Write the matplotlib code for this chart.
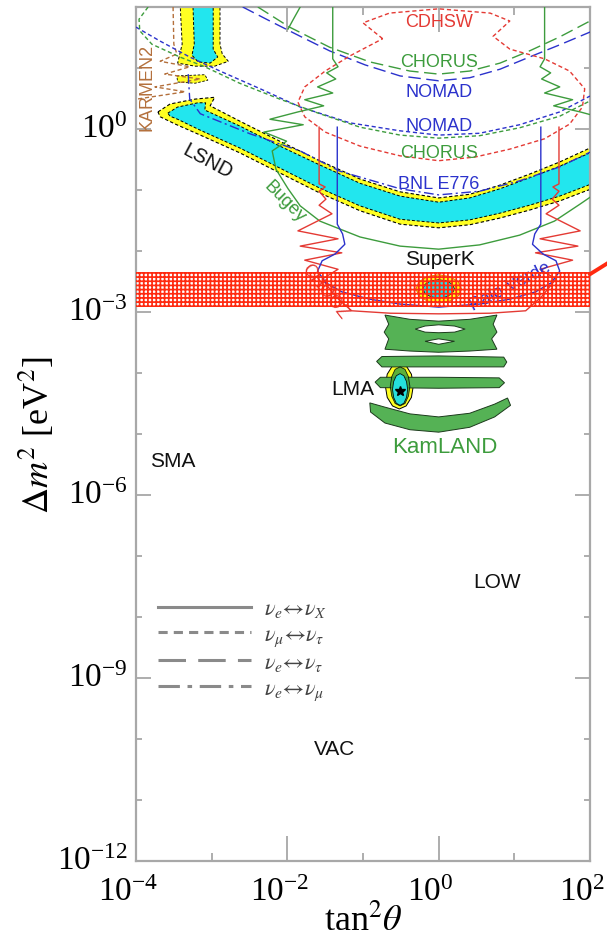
import numpy as np
import matplotlib
matplotlib.use("Agg")
import matplotlib.pyplot as plt
import matplotlib.transforms as mtransforms
from matplotlib.lines import Line2D
from matplotlib.ticker import NullFormatter

# all points are (log10 tan^2 theta, log10 dm^2 / eV^2)

# LSND allowed region (yellow = outer, cyan = inner)
lsnd_yellow_upper = [(-3.71, 0.28), (-3.55, 0.41), (-3.22, 0.49), (-2.96, 0.52), (-3.02, 0.38),
                     (-2.63, 0.13), (-2.10, -0.20), (-1.57, -0.52), (-1.04, -0.82), (-0.51, -1.03),
                     (0.0, -1.13), (0.41, -1.07), (0.81, -0.92), (1.20, -0.74), (1.60, -0.54), (2.02, -0.30)]
lsnd_yellow_lower = [(2.02, -0.98), (1.60, -1.18), (1.20, -1.33), (0.81, -1.46), (0.41, -1.57),
                     (0.0, -1.62), (-0.51, -1.56), (-1.04, -1.34), (-1.57, -1.05), (-2.10, -0.72),
                     (-2.63, -0.39), (-3.15, -0.10), (-3.48, 0.08), (-3.68, 0.20)]
lsnd_cyan_upper = [(-3.58, 0.26), (-3.45, 0.36), (-3.18, 0.43), (-3.08, 0.43), (-3.09, 0.31),
                   (-2.63, 0.05), (-2.10, -0.28), (-1.57, -0.59), (-1.04, -0.89), (-0.51, -1.10),
                   (0.0, -1.20), (0.41, -1.13), (0.81, -0.98), (1.20, -0.80), (1.60, -0.61), (2.02, -0.38)]
lsnd_cyan_lower = [(2.02, -0.90), (1.60, -1.10), (1.20, -1.25), (0.81, -1.38), (0.41, -1.49),
                   (0.0, -1.54), (-0.51, -1.48), (-1.04, -1.26), (-1.57, -0.97), (-2.10, -0.64),
                   (-2.63, -0.31), (-3.15, -0.02), (-3.45, 0.16), (-3.55, 0.21)]
lsnd_strip_yellow = [(-3.42, 2.13), (-2.89, 2.13), (-2.89, 1.39), (-2.86, 1.23), (-2.78, 1.11),
                     (-2.96, 1.03), (-3.22, 1.03), (-3.45, 1.08), (-3.39, 1.39)]
lsnd_strip_cyan = [(-3.25, 2.13), (-2.98, 2.13), (-2.98, 1.31), (-2.92, 1.18), (-3.02, 1.08),
                   (-3.18, 1.10), (-3.26, 1.21), (-3.23, 1.39)]
lsnd_blob = [(-3.46, 0.87), (-3.09, 0.89), (-3.05, 0.80), (-3.22, 0.75), (-3.45, 0.77)]

# exclusion curves
karmen2 = [(-3.51, 2.0), (-3.50, 1.39), (-3.46, 1.23), (-3.68, 1.11), (-3.29, 1.02), (-3.62, 0.90),
           (-3.15, 0.82), (-3.75, 0.69), (-3.35, 0.61), (-3.99, 0.49)]
nomad_mt = [(-4.0, 1.67), (-3.68, 1.44), (-3.29, 1.18), (-2.89, 0.95), (-2.36, 0.66), (-1.83, 0.36),
            (-1.17, 0.10), (-0.51, -0.03), (0.0, -0.10), (0.54, -0.07), (1.07, 0.07), (1.60, 0.28), (2.0, 0.54)]
chorus_mt = [(-3.84, 2.0), (-3.96, 1.80), (-3.95, 1.61), (-3.79, 1.39), (-3.42, 1.18), (-3.09, 1.02),
             (-2.63, 0.75), (-2.10, 0.49), (-1.57, 0.25), (-1.04, 0.03), (-0.51, -0.10), (0.0, -0.15),
             (0.54, -0.11), (1.07, 0.02), (1.60, 0.21), (2.0, 0.46)]
nomad_et = [(-2.59, 2.0), (-2.23, 1.77), (-1.83, 1.52), (-1.44, 1.28), (-0.97, 1.05), (-0.51, 0.87),
            (0.0, 0.79), (0.41, 0.84), (0.81, 0.98), (1.24, 1.20), (1.60, 1.38), (2.04, 1.61)]
chorus_et = [(-2.39, 2.0), (-1.97, 1.67), (-1.44, 1.34), (-0.91, 1.10), (-0.38, 0.95), (0.0, 0.90),
             (0.41, 0.95), (0.81, 1.08), (1.20, 1.28), (1.60, 1.51), (2.0, 1.77)]
cdhsw = [(-0.74, 1.48), (-1.0, 1.74), (-0.65, 1.90), (0.0, 1.97), (0.68, 1.90), (0.94, 1.77),
         (0.72, 1.52), (0.94, 1.31), (1.40, 1.15), (1.73, 0.95), (1.93, 0.66), (1.90, 0.36),
         (1.73, 0.08), (1.40, -0.16), (0.94, -0.33), (0.48, -0.46), (0.0, -0.52), (-0.51, -0.44),
         (-1.04, -0.28), (-1.50, -0.05), (-1.77, 0.20), (-1.86, 0.44), (-1.77, 0.69), (-1.50, 0.95),
         (-1.17, 1.20), (-0.74, 1.48)]
bnl_e776 = [(-3.31, 0.90), (-3.29, 0.49), (-3.15, 0.25), (-2.49, -0.08), (-1.83, -0.36), (-1.31, -0.69),
            (-0.51, -0.98), (0.0, -1.08), (0.54, -1.02), (1.07, -0.85), (1.60, -0.62), (2.0, -0.38)]
bugey_main = [(-1.40, 2.0), (-1.40, 1.15), (-1.33, 1.02), (-1.48, 0.92), (-1.36, 0.82), (-1.60, 0.69),
              (-1.40, 0.59), (-1.77, 0.48), (-1.52, 0.38), (-1.86, 0.28), (-2.23, 0.16), (-1.79, 0.07),
              (-2.31, -0.05), (-2.01, -0.20), (-2.20, -0.36), (-2.15, -0.66), (-1.99, -0.98),
              (-1.83, -1.26), (-1.57, -1.51), (-1.04, -1.77), (-0.51, -1.92), (0.0, -1.97),
              (0.54, -1.90), (1.07, -1.74), (1.53, -1.51), (1.87, -1.23), (2.20, -0.95)]
bugey_right = [(1.40, 2.0), (1.40, 1.15), (1.34, 1.02), (1.48, 0.92), (1.36, 0.82), (1.60, 0.69),
               (1.40, 0.59), (1.77, 0.48), (1.52, 0.38), (1.87, 0.28), (2.23, 0.16)]
green_hook = [(-1.99, 1.64), (-1.92, 1.80), (-1.83, 2.0)]
chooz = [(-1.58, 0.03), (-1.58, -0.90), (-1.50, -0.95), (-1.58, -1.02), (-1.49, -1.15), (-1.58, -1.25),
         (-1.41, -1.39), (-1.86, -1.67), (-1.33, -1.80), (-1.83, -1.92), (-1.28, -2.03), (-1.77, -2.15),
         (-1.33, -2.30), (-1.54, -2.46), (-1.36, -2.75), (-1.15, -2.98), (-0.64, -3.02), (0.0, -3.03),
         (0.68, -3.02), (1.15, -2.98), (1.36, -2.75), (1.55, -2.46), (1.34, -2.30), (1.77, -2.15),
         (1.28, -2.03), (1.84, -1.92), (1.34, -1.80), (1.87, -1.67), (1.42, -1.39), (1.59, -1.25),
         (1.50, -1.15), (1.59, -1.02), (1.51, -0.95), (1.59, -0.90), (1.59, 0.03)]
palo_verde = [(-1.34, 0.03), (-1.34, -1.56), (-1.27, -1.72), (-1.24, -1.89), (-1.37, -2.05),
              (-1.54, -2.16), (-1.60, -2.33), (-1.49, -2.52), (-1.28, -2.67), (-0.91, -2.79),
              (-0.51, -2.87), (0.0, -2.92), (0.54, -2.87), (0.94, -2.79), (1.28, -2.67), (1.49, -2.52),
              (1.60, -2.33), (1.55, -2.16), (1.38, -2.05), (1.24, -1.89), (1.27, -1.72), (1.35, -1.56),
              (1.35, 0.03)]

# atmospheric band (SuperK) and its pointer line
atm_band = (-2.92, -2.34)
atm_pointer = [(2.0, -2.38), (2.22, -2.21)]
superk_outer = [(0.30, -2.62), (0.26, -2.505), (0.15, -2.42), (0.0, -2.39), (-0.15, -2.42), (-0.26, -2.505),
                (-0.30, -2.62), (-0.26, -2.735), (-0.15, -2.82), (0.0, -2.85), (0.15, -2.82), (0.26, -2.735)]
superk_inner = [(0.21, -2.62), (0.18, -2.545), (0.105, -2.49), (0.0, -2.47), (-0.105, -2.49), (-0.18, -2.545),
                (-0.21, -2.62), (-0.18, -2.695), (-0.105, -2.75), (0.0, -2.77), (0.105, -2.75), (0.18, -2.695)]

# KamLAND and LMA
kam_top = [(-0.71, -3.05), (-0.38, -3.12), (0.0, -3.15), (0.41, -3.12), (0.77, -3.05), (0.72, -3.20),
           (0.77, -3.33), (0.70, -3.44), (0.77, -3.61), (0.41, -3.64), (0.0, -3.66), (-0.38, -3.64),
           (-0.71, -3.61), (-0.66, -3.44), (-0.72, -3.33), (-0.66, -3.20)]
kam_hole1 = [(-0.31, -3.28), (-0.18, -3.23), (0.0, -3.21), (0.21, -3.23), (0.35, -3.28), (0.21, -3.33),
             (0.0, -3.34), (-0.18, -3.33)]
kam_hole2 = [(-0.18, -3.48), (0.0, -3.44), (0.21, -3.48), (0.0, -3.53)]
kam_band2 = [(-0.82, -3.81), (-0.75, -3.73), (0.0, -3.72), (0.86, -3.74), (0.90, -3.82), (0.86, -3.90),
             (0.0, -3.90), (-0.75, -3.90)]
kam_band3 = [(-0.84, -4.15), (-0.77, -4.07), (0.0, -4.07), (0.80, -4.08), (0.87, -4.16), (0.80, -4.24),
             (0.0, -4.25), (-0.77, -4.24)]
kam_arc = [(-0.91, -4.49), (-0.71, -4.56), (-0.38, -4.67), (0.0, -4.72), (0.41, -4.66), (0.74, -4.51),
           (0.91, -4.41), (0.95, -4.53), (0.74, -4.72), (0.41, -4.89), (0.0, -4.97), (-0.38, -4.93),
           (-0.71, -4.82), (-0.90, -4.64)]
lma_yellow = [(-0.335, -4.21), (-0.36, -4.02), (-0.43, -3.88), (-0.52, -3.83), (-0.61, -3.88), (-0.68, -4.02),
              (-0.705, -4.21), (-0.68, -4.40), (-0.61, -4.54), (-0.52, -4.59), (-0.43, -4.54), (-0.36, -4.40)]
lma_green = [(-0.38, -4.22), (-0.40, -4.06), (-0.445, -3.94), (-0.51, -3.90), (-0.575, -3.94), (-0.62, -4.06),
             (-0.64, -4.22), (-0.62, -4.38), (-0.575, -4.50), (-0.51, -4.54), (-0.445, -4.50), (-0.40, -4.38)]
lma_cyan = [(-0.41, -4.27), (-0.425, -4.14), (-0.46, -4.045), (-0.51, -4.01), (-0.56, -4.045), (-0.595, -4.14),
            (-0.61, -4.27), (-0.595, -4.40), (-0.56, -4.495), (-0.51, -4.53), (-0.46, -4.495), (-0.425, -4.40)]
lma_best = (-0.51, -4.30)

# labels: text, (log x, log y), colour key, size, rotation
labels = [("CDHSW", (0.0, 1.77), "red", 13, 0), ("CHORUS", (0.0, 1.11), "green", 13, 0),
          ("NOMAD", (0.0, 0.61), "blue", 13, 0), ("NOMAD", (0.0, 0.05), "blue", 13, 0),
          ("CHORUS", (0.0, -0.38), "green", 13, 0), ("BNL E776", (0.0, -0.90), "blue", 13, 0),
          ("LSND", (-3.06, -0.52), "black", 14.5, -28), ("KARMEN2", (-3.855, 0.69), "brown", 13, 90),
          ("Bugey", (-2.03, -1.18), "green", 13, -45), ("SuperK", (0.02, -2.13), "black", 15, 0),
          ("LMA", (-1.13, -4.26), "black", 15, 0), ("KamLAND", (0.08, -5.20), "green", 16, 0),
          ("SMA", (-3.52, -5.43), "black", 15, 0), ("LOW", (0.77, -7.41), "black", 15, 0),
          ("VAC", (-1.37, -10.16), "black", 15, 0)]
hidden_labels = [("CHOOZ", (-1.50, -2.66), "red", 13, -52), ("Palo Verde", (0.94, -2.57), "blue", 13, 27)]

legend_labels = [r"$\nu_e\!\leftrightarrow\!\nu_X$", r"$\nu_\mu\!\leftrightarrow\!\nu_\tau$",
                 r"$\nu_e\!\leftrightarrow\!\nu_\tau$", r"$\nu_e\!\leftrightarrow\!\nu_\mu$"]

colors = {"red": "#e43a34", "green": "#3d9c3d", "blue": "#2b32cc", "brown": "#b4703c", "black": "#111111"}
YELLOW = "#ffff22"
CYAN = "#22e6ee"
KAMGREEN = "#55b255"
SOLID = "-"
SHORT = (0, (3, 2))
LONG = (0, (9, 4))
DASHDOT = (0, (7, 2.5, 1.5, 2.5))

plt.rcParams["font.family"] = "Liberation Serif"
plt.rcParams["mathtext.fontset"] = "stix"
plt.rcParams["hatch.linewidth"] = 1.25


def xy(points):
    arr = 10.0 ** np.array(points, dtype=float)
    return arr[:, 0], arr[:, 1]


fig = plt.figure(figsize=(6.07, 9.45), dpi=100)
ax = fig.add_axes([136 / 607, 83 / 945, 454 / 607, 854 / 945])
ax.set_xscale("log")
ax.set_yscale("log")

# filled regions
ax.fill(*xy(lsnd_strip_yellow), facecolor=YELLOW, edgecolor="k", lw=0.7, ls=SHORT, zorder=2)
ax.fill(*xy(lsnd_strip_cyan), facecolor=CYAN, edgecolor="k", lw=0.7, ls=SHORT, zorder=2)
ax.fill(*xy(lsnd_blob), facecolor=YELLOW, edgecolor="k", lw=0.6, ls=SHORT, zorder=2)
ax.fill(*xy(lsnd_yellow_upper + lsnd_yellow_lower), facecolor=YELLOW, edgecolor="k", lw=0.8, ls=SHORT, zorder=2)
ax.fill(*xy(lsnd_cyan_upper + lsnd_cyan_lower), facecolor=CYAN, edgecolor="k", lw=0.7, ls=SHORT, zorder=2)

ax.fill(*xy(superk_outer), facecolor=YELLOW, edgecolor="#e08a00", lw=0.8, zorder=2)
ax.fill(*xy(superk_inner), facecolor=CYAN, edgecolor="k", lw=0.5, zorder=2)

ax.fill(*xy(lma_yellow), facecolor=YELLOW, edgecolor="k", lw=0.7, zorder=2)
for blob in [kam_top, kam_band2, kam_band3, kam_arc]:
    ax.fill(*xy(blob), facecolor=KAMGREEN, edgecolor="#1c3a1c", lw=0.7, zorder=2.2)
for hole in [kam_hole1, kam_hole2]:
    ax.fill(*xy(hole), facecolor="white", edgecolor="#1c3a1c", lw=0.7, zorder=2.3)
ax.fill(*xy(lma_green), facecolor="#3fa23f", edgecolor="k", lw=0.6, alpha=0.85, zorder=2.4)
ax.fill(*xy(lma_cyan), facecolor=CYAN, edgecolor="k", lw=0.6, alpha=0.9, zorder=2.5)
ax.plot(10 ** lma_best[0], 10 ** lma_best[1], marker="*", color="k", ms=7, zorder=2.6)

# exclusion curves
curves = [(karmen2, "brown", SHORT), (nomad_mt, "blue", SHORT), (chorus_mt, "green", SHORT),
          (nomad_et, "blue", LONG), (chorus_et, "green", LONG), (cdhsw, "red", SHORT),
          (bnl_e776, "blue", DASHDOT), (bugey_main, "green", SOLID), (bugey_right, "green", SOLID),
          (green_hook, "green", SOLID), (chooz, "red", SOLID), (palo_verde, "blue", SOLID)]
for pts, c, ls in curves:
    ax.plot(*xy(pts), color=colors[c], lw=1.0, ls=ls, zorder=3)

for text, (lx, ly), c, size, rot in hidden_labels:
    ax.text(10 ** lx, 10 ** ly, text, color=colors[c], fontsize=size, rotation=rot,
            ha="center", va="center", family="Liberation Sans", zorder=3.5)

# hatched atmospheric band
ax.axhspan(10 ** atm_band[0], 10 ** atm_band[1], facecolor="none", edgecolor="#ff2a10",
           hatch="++++", lw=0, zorder=4)
ax.plot(*xy(atm_pointer), color="#ff2a10", lw=2.8, clip_on=False, zorder=4)

for text, (lx, ly), c, size, rot in labels:
    ax.text(10 ** lx, 10 ** ly, text, color=colors[c], fontsize=size, rotation=rot,
            ha="center", va="center", family="Liberation Sans", zorder=5)

# legend
handles = [Line2D([], [], color="#8a8a8a", lw=2.2, ls=ls) for ls in [SOLID, SHORT, LONG, DASHDOT]]
ax.legend(handles, legend_labels, loc="upper left", bbox_to_anchor=(0.048, 0.307), frameon=False,
          fontsize=16, handlelength=4.2, handletextpad=0.6, labelspacing=0.22, borderpad=0,
          borderaxespad=0, labelcolor="#444444")

ax.set_xlim(1e-4, 1e2)
ax.set_ylim(1e-12, 1e2)
ax.set_xticks([1e-4, 1e-2, 1e0, 1e2])
ax.set_xticks([1e-3, 1e-1, 1e1], minor=True)
ax.set_yticks([1e-12, 1e-9, 1e-6, 1e-3, 1e0])
ax.set_yticks([1e-11, 1e-10, 1e-8, 1e-7, 1e-5, 1e-4, 1e-2, 1e-1, 1e1], minor=True)
ax.xaxis.set_minor_formatter(NullFormatter())
ax.yaxis.set_minor_formatter(NullFormatter())
ax.tick_params(which="both", direction="in", top=True, right=True, color="#a0a0a0", width=1.2,
               labelsize=24)
ax.tick_params(axis="x", which="major", length=18, pad=11)
ax.tick_params(axis="x", which="minor", length=6)
ax.tick_params(axis="y", which="major", length=11, pad=6)
ax.tick_params(axis="y", which="minor", length=4)
for sp in ax.spines.values():
    sp.set_color("#a8a8a8")
    sp.set_linewidth(1.6)

# x tick labels sit a little left of their ticks, y tick labels a little above
shift_x = mtransforms.ScaledTranslation(-0.08, 0, fig.dpi_scale_trans)
for tick in ax.xaxis.get_major_ticks():
    tick.label1.set_transform(tick.label1.get_transform() + shift_x)
shift_y = mtransforms.ScaledTranslation(0, 0.04, fig.dpi_scale_trans)
for tick in ax.yaxis.get_major_ticks():
    tick.label1.set_transform(tick.label1.get_transform() + shift_y)

ax.set_xlabel(r"tan$^2\theta$", fontsize=26, labelpad=-2)
ax.set_ylabel(r"$\Delta m^2$ [eV$^2$]", fontsize=26, labelpad=0)

fig.savefig("out.png", dpi=100)
